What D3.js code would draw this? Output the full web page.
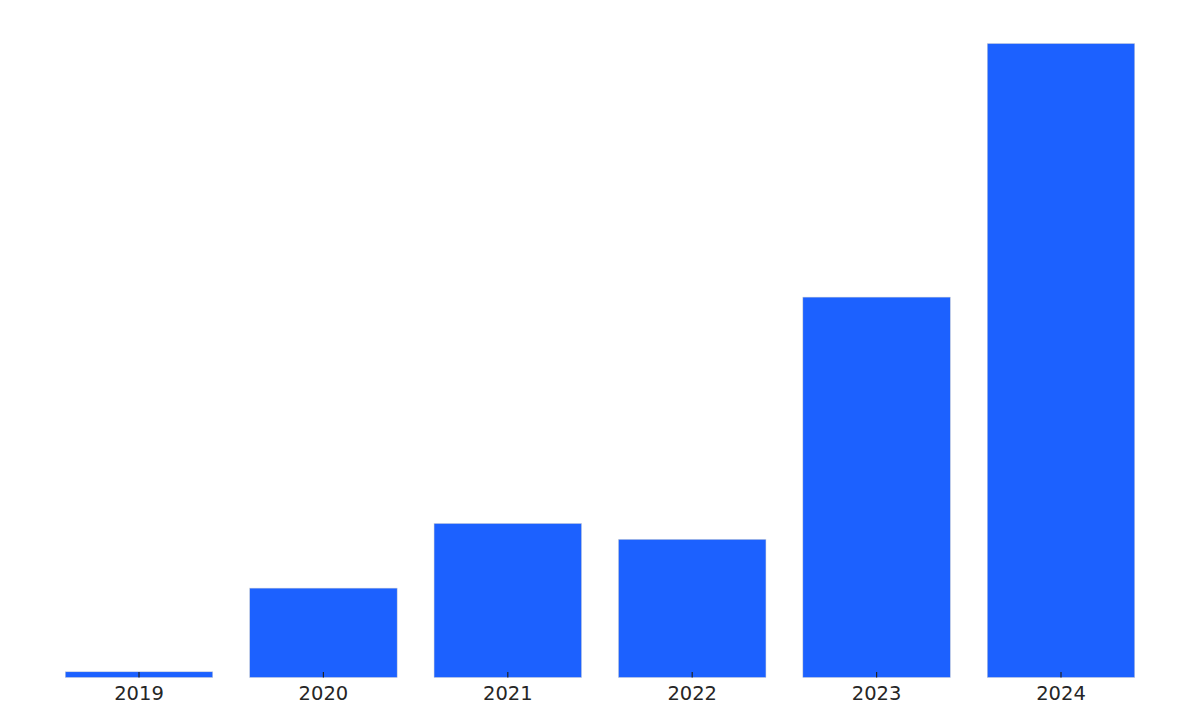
<!DOCTYPE html>
<html>
<head>
<meta charset="utf-8">
<script src="https://cdn.jsdelivr.net/npm/d3@7"></script>
<style>
  body { margin: 0; background: #fff; }
  svg { display: block; }
</style>
</head>
<body>
<div id="chart"></div>
<script>

let years = ["2019", "2020", "2021", "2022", "2023", "2024"];
let values = [0.9, 14.1, 24.3, 21.8, 60.0, 100];

let w = 1200; let h = 716;
let baseY = 677.5; let topY = 43.5;

let svg = d3.select("#chart")
    .append("svg")
    .attr("width", w)
    .attr("height", h);

let x = d3.scaleBand()
    .domain(years)
    .range([46.8, 1153.2])
    .paddingInner(0.2)
    .paddingOuter(0.1);

let y = d3.scaleLinear()
    .domain([0, 100])
    .range([baseY, topY]);

svg.append("g")
  .selectAll("rect")
  .data(values)
  .enter().append("rect")
    .attr("x", (d, i) => x(years[i]))
    .attr("y", d => y(d))
    .attr("width", x.bandwidth())
    .attr("height", d => baseY - y(d))
    .attr("fill", "#1c61ff")
    .attr("stroke", "#d4d4d4")
    .attr("stroke-width", 0.5);

// ticks point inward, drawn over the bars
let xAxis = d3.axisBottom(x).tickSize(-5.5).tickPadding(8.5);

let gx = svg.append("g")
    .attr("transform", `translate(0,${baseY})`)
    .call(xAxis);

gx.select(".domain").remove();
gx.selectAll(".tick line")
    .attr("stroke", "#222")
    .attr("stroke-width", 1.2);
gx.selectAll(".tick text")
    .attr("fill", "#262626")
    .attr("font-family", "DejaVu Sans")
    .attr("font-size", "19.5px")
    .attr("dy", "0.71em");

</script>
</body>
</html>
